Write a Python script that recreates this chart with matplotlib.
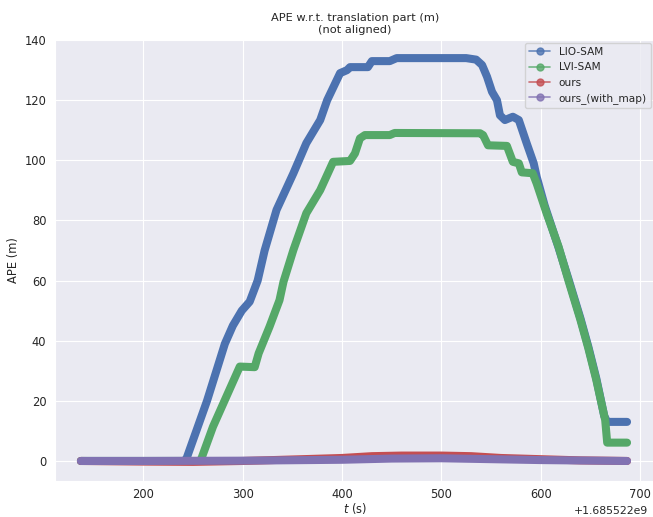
import matplotlib
matplotlib.use("Agg")
import matplotlib.pyplot as plt
import seaborn as sns
from matplotlib.lines import Line2D

sns.set_style("darkgrid")
plt.rcParams.update({"font.family": ["DejaVu Sans"], "font.size": 8.3,
                     "xtick.major.pad": 1.8, "ytick.major.pad": 2.5})

T0 = 1685522000.0

# series: time offsets (s, relative to T0) and APE values (m)
lio_t = [137, 240, 243, 264, 282, 290, 299, 307, 315, 322, 334, 351, 364, 378, 385, 398, 405,
         408, 426, 430, 448, 455, 525, 535, 541, 546, 551, 556, 559, 564, 572, 578, 586,
         593, 596, 604, 618, 628, 640, 648, 656, 664, 667, 687]
lio_v = [0, 0, 0.5, 20, 39, 45, 50, 53, 60, 70, 83.5, 95.7, 105.7, 113.4, 120, 129, 130,
         131, 131, 133, 133, 134, 134, 133.5, 131.7, 127.8, 122.8, 120, 115, 113.4, 114.5, 113.4, 105.6,
         99, 94.5, 85, 71, 60.5, 47.5, 38, 27.5, 15, 13, 13]

lvi_t = [137, 256, 258, 270, 282, 297, 312, 316, 327, 337, 341, 351, 364, 378, 391, 408,
         413, 418, 423, 448, 453, 539, 542, 547, 566, 572, 578, 581, 592, 596, 606, 618,
         628, 640, 648, 656, 665, 667, 687]
lvi_v = [0, 0, 0.5, 11.4, 20.3, 31.4, 31.2, 35.8, 44.7, 53.5, 59.6, 70.2, 82.4, 90.1, 99.5, 99.8,
         102.3, 107.3, 108.4, 108.4, 109.1, 109, 108.4, 105, 104.8, 99.5, 99, 96, 95.7, 92.3, 82.4, 71.3,
         60, 47, 37.5, 27, 13.6, 6.1, 6.1]

ours_t = [137, 200, 250, 300, 350, 400, 430, 460, 500, 530, 560, 600, 640, 687]
ours_v = [0, -0.2, -0.3, 0, 0.5, 1.0, 1.6, 1.8, 1.8, 1.6, 1.0, 0.6, 0.2, 0]

map_t = [137, 200, 300, 400, 450, 500, 550, 600, 687]
map_v = [0, 0, 0.1, 0.4, 0.8, 0.9, 0.6, 0.3, 0]

names = ["LIO-SAM", "LVI-SAM", "ours", "ours_(with_map)"]
colors = ["#4C72B0", "#55A868", "#C44E52", "#8172B2"]


def main():
    fig = plt.figure(figsize=(6.53, 5.17), dpi=100)
    ax = fig.add_axes([0.0836, 0.0694, 0.92, 0.856])

    series = [(lio_t, lio_v), (lvi_t, lvi_v), (ours_t, ours_v), (map_t, map_v)]
    for (t, v), c in zip(series, colors):
        ax.plot([T0 + x for x in t], v, color=c, lw=5.8, solid_capstyle="round",
                solid_joinstyle="round")

    ax.set_xlim(T0 + 110.5, T0 + 715.5)
    ax.set_ylim(-6.7, 140.5)
    ax.set_xticks([T0 + x for x in range(200, 701, 100)])
    ax.set_yticks(range(0, 141, 20))

    ax.set_title("APE w.r.t. translation part (m)\n(not aligned)", fontsize=8.2, pad=4)
    ax.set_xlabel("$t$ (s)", labelpad=-0.5)
    ax.set_ylabel("APE (m)", labelpad=3)
    off = ax.xaxis.get_offset_text()
    off.set_x(0.988)
    off.set_fontsize(7.8)

    handles = [Line2D([], [], color=c, marker="o", lw=1.2, ms=5, alpha=0.8) for c in colors]
    ax.legend(handles, names, loc="upper right", fontsize=7.6, frameon=True,
              borderaxespad=0.4)

    fig.savefig("out.png", dpi=100)
    plt.close(fig)


if __name__ == "__main__":
    main()
